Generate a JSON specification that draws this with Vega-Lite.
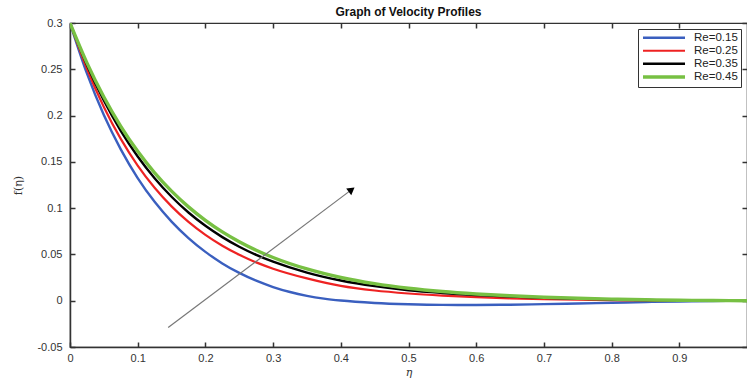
{
  "$schema": "https://vega.github.io/schema/vega-lite/v6.json",
  "autosize": "none",
  "padding": {"left": 70, "top": 23, "right": 0, "bottom": 34},
  "width": 677,
  "height": 324,
  "background": "white",
  "title": {
    "text": "Graph of Velocity Profiles",
    "font": "Liberation Sans",
    "fontSize": 12,
    "fontWeight": "bold",
    "color": "#111",
    "offset": -2
  },
  "config": {
    "view": {"stroke": "#333", "strokeWidth": 1.2},
    "axis": {
      "labelFont": "Liberation Sans",
      "labelFontSize": 11,
      "labelColor": "#333",
      "titleFont": "DejaVu Serif",
      "titleFontSize": 11,
      "titleFontWeight": "normal",
      "titleColor": "#333",
      "domainColor": "#333",
      "domainWidth": 1.5,
      "tickColor": "#333",
      "tickWidth": 1.5,
      "tickSize": -5,
      "grid": false
    },
    "legend": {
      "labelFont": "Liberation Sans",
      "labelFontSize": 11.5,
      "labelColor": "#222"
    }
  },
  "datasets": {
    "profiles": [
      {"eta": 0, "f": 0.3, "Re": "Re=0.15"},
      {"eta": 0.025, "f": 0.2455, "Re": "Re=0.15"},
      {"eta": 0.05, "f": 0.2005, "Re": "Re=0.15"},
      {"eta": 0.075, "f": 0.1635, "Re": "Re=0.15"},
      {"eta": 0.1, "f": 0.1325, "Re": "Re=0.15"},
      {"eta": 0.125, "f": 0.1068, "Re": "Re=0.15"},
      {"eta": 0.15, "f": 0.0855, "Re": "Re=0.15"},
      {"eta": 0.175, "f": 0.0677, "Re": "Re=0.15"},
      {"eta": 0.2, "f": 0.0528, "Re": "Re=0.15"},
      {"eta": 0.225, "f": 0.0403, "Re": "Re=0.15"},
      {"eta": 0.25, "f": 0.03, "Re": "Re=0.15"},
      {"eta": 0.275, "f": 0.0216, "Re": "Re=0.15"},
      {"eta": 0.3, "f": 0.0148, "Re": "Re=0.15"},
      {"eta": 0.325, "f": 0.0094, "Re": "Re=0.15"},
      {"eta": 0.35, "f": 0.0053, "Re": "Re=0.15"},
      {"eta": 0.375, "f": 0.0023, "Re": "Re=0.15"},
      {"eta": 0.4, "f": 0.0002, "Re": "Re=0.15"},
      {"eta": 0.45, "f": -0.0024, "Re": "Re=0.15"},
      {"eta": 0.5, "f": -0.0038, "Re": "Re=0.15"},
      {"eta": 0.55, "f": -0.0045, "Re": "Re=0.15"},
      {"eta": 0.6, "f": -0.0046, "Re": "Re=0.15"},
      {"eta": 0.65, "f": -0.0043, "Re": "Re=0.15"},
      {"eta": 0.7, "f": -0.0037, "Re": "Re=0.15"},
      {"eta": 0.75, "f": -0.003, "Re": "Re=0.15"},
      {"eta": 0.8, "f": -0.0022, "Re": "Re=0.15"},
      {"eta": 0.85, "f": -0.0014, "Re": "Re=0.15"},
      {"eta": 0.9, "f": -0.0008, "Re": "Re=0.15"},
      {"eta": 0.95, "f": -0.0003, "Re": "Re=0.15"},
      {"eta": 1, "f": 0, "Re": "Re=0.15"},

      {"eta": 0, "f": 0.3, "Re": "Re=0.25"},
      {"eta": 0.025, "f": 0.2506, "Re": "Re=0.25"},
      {"eta": 0.05, "f": 0.2093, "Re": "Re=0.25"},
      {"eta": 0.075, "f": 0.1748, "Re": "Re=0.25"},
      {"eta": 0.1, "f": 0.146, "Re": "Re=0.25"},
      {"eta": 0.125, "f": 0.122, "Re": "Re=0.25"},
      {"eta": 0.15, "f": 0.1019, "Re": "Re=0.25"},
      {"eta": 0.175, "f": 0.0851, "Re": "Re=0.25"},
      {"eta": 0.2, "f": 0.0711, "Re": "Re=0.25"},
      {"eta": 0.225, "f": 0.0594, "Re": "Re=0.25"},
      {"eta": 0.25, "f": 0.0496, "Re": "Re=0.25"},
      {"eta": 0.275, "f": 0.0414, "Re": "Re=0.25"},
      {"eta": 0.3, "f": 0.0346, "Re": "Re=0.25"},
      {"eta": 0.35, "f": 0.0241, "Re": "Re=0.25"},
      {"eta": 0.4, "f": 0.016, "Re": "Re=0.25"},
      {"eta": 0.45, "f": 0.011, "Re": "Re=0.25"},
      {"eta": 0.5, "f": 0.0078, "Re": "Re=0.25"},
      {"eta": 0.55, "f": 0.0055, "Re": "Re=0.25"},
      {"eta": 0.6, "f": 0.0038, "Re": "Re=0.25"},
      {"eta": 0.65, "f": 0.0026, "Re": "Re=0.25"},
      {"eta": 0.7, "f": 0.0017, "Re": "Re=0.25"},
      {"eta": 0.75, "f": 0.0011, "Re": "Re=0.25"},
      {"eta": 0.8, "f": 0.0006, "Re": "Re=0.25"},
      {"eta": 0.85, "f": 0.0003, "Re": "Re=0.25"},
      {"eta": 0.9, "f": 0.0001, "Re": "Re=0.25"},
      {"eta": 0.95, "f": 0, "Re": "Re=0.25"},
      {"eta": 1, "f": 0, "Re": "Re=0.25"},

      {"eta": 0, "f": 0.3, "Re": "Re=0.35"},
      {"eta": 0.025, "f": 0.2547, "Re": "Re=0.35"},
      {"eta": 0.05, "f": 0.2162, "Re": "Re=0.35"},
      {"eta": 0.075, "f": 0.1835, "Re": "Re=0.35"},
      {"eta": 0.1, "f": 0.1558, "Re": "Re=0.35"},
      {"eta": 0.125, "f": 0.1323, "Re": "Re=0.35"},
      {"eta": 0.15, "f": 0.1123, "Re": "Re=0.35"},
      {"eta": 0.175, "f": 0.0953, "Re": "Re=0.35"},
      {"eta": 0.2, "f": 0.0809, "Re": "Re=0.35"},
      {"eta": 0.225, "f": 0.0687, "Re": "Re=0.35"},
      {"eta": 0.25, "f": 0.0583, "Re": "Re=0.35"},
      {"eta": 0.275, "f": 0.0495, "Re": "Re=0.35"},
      {"eta": 0.3, "f": 0.0421, "Re": "Re=0.35"},
      {"eta": 0.35, "f": 0.0303, "Re": "Re=0.35"},
      {"eta": 0.4, "f": 0.0218, "Re": "Re=0.35"},
      {"eta": 0.45, "f": 0.0157, "Re": "Re=0.35"},
      {"eta": 0.5, "f": 0.0113, "Re": "Re=0.35"},
      {"eta": 0.55, "f": 0.0084, "Re": "Re=0.35"},
      {"eta": 0.6, "f": 0.0062, "Re": "Re=0.35"},
      {"eta": 0.65, "f": 0.0045, "Re": "Re=0.35"},
      {"eta": 0.7, "f": 0.0032, "Re": "Re=0.35"},
      {"eta": 0.75, "f": 0.0022, "Re": "Re=0.35"},
      {"eta": 0.8, "f": 0.0014, "Re": "Re=0.35"},
      {"eta": 0.85, "f": 0.0008, "Re": "Re=0.35"},
      {"eta": 0.9, "f": 0.0004, "Re": "Re=0.35"},
      {"eta": 0.95, "f": 0.0001, "Re": "Re=0.35"},
      {"eta": 1, "f": 0, "Re": "Re=0.35"},

      {"eta": 0, "f": 0.3, "Re": "Re=0.45"},
      {"eta": 0.025, "f": 0.2569, "Re": "Re=0.45"},
      {"eta": 0.05, "f": 0.22, "Re": "Re=0.45"},
      {"eta": 0.075, "f": 0.1884, "Re": "Re=0.45"},
      {"eta": 0.1, "f": 0.1614, "Re": "Re=0.45"},
      {"eta": 0.125, "f": 0.1382, "Re": "Re=0.45"},
      {"eta": 0.15, "f": 0.1184, "Re": "Re=0.45"},
      {"eta": 0.175, "f": 0.1014, "Re": "Re=0.45"},
      {"eta": 0.2, "f": 0.0868, "Re": "Re=0.45"},
      {"eta": 0.225, "f": 0.0743, "Re": "Re=0.45"},
      {"eta": 0.25, "f": 0.0637, "Re": "Re=0.45"},
      {"eta": 0.275, "f": 0.0545, "Re": "Re=0.45"},
      {"eta": 0.3, "f": 0.0467, "Re": "Re=0.45"},
      {"eta": 0.35, "f": 0.0343, "Re": "Re=0.45"},
      {"eta": 0.4, "f": 0.0251, "Re": "Re=0.45"},
      {"eta": 0.45, "f": 0.0184, "Re": "Re=0.45"},
      {"eta": 0.5, "f": 0.0135, "Re": "Re=0.45"},
      {"eta": 0.55, "f": 0.0099, "Re": "Re=0.45"},
      {"eta": 0.6, "f": 0.0073, "Re": "Re=0.45"},
      {"eta": 0.65, "f": 0.0053, "Re": "Re=0.45"},
      {"eta": 0.7, "f": 0.0038, "Re": "Re=0.45"},
      {"eta": 0.75, "f": 0.0026, "Re": "Re=0.45"},
      {"eta": 0.8, "f": 0.0017, "Re": "Re=0.45"},
      {"eta": 0.85, "f": 0.001, "Re": "Re=0.45"},
      {"eta": 0.9, "f": 0.0005, "Re": "Re=0.45"},
      {"eta": 0.95, "f": 0.0002, "Re": "Re=0.45"},
      {"eta": 1, "f": 0, "Re": "Re=0.45"}
    ],
    "arrow": [
      {"x": 0.145, "y": -0.029, "x2": 0.416, "y2": 0.12}
    ]
  },
  "resolve": {"axis": {"x": "independent", "y": "independent"}},
  "layer": [
    {
      "data": {"name": "profiles"},
      "mark": {"type": "line", "interpolate": "monotone", "clip": true},
      "encoding": {
        "x": {
          "field": "eta", "type": "quantitative",
          "scale": {"domain": [0, 1], "nice": false},
          "axis": {"title": "η", "titleFontStyle": "italic", "values": [0, 0.1, 0.2, 0.3, 0.4, 0.5, 0.6, 0.7, 0.8, 0.9], "labelExpr": "datum.value + ''", "labelPadding": 10, "titlePadding": 3, "labelFlush": false}
        },
        "y": {
          "field": "f", "type": "quantitative",
          "scale": {"domain": [-0.05, 0.3], "nice": false},
          "axis": {"title": "f(η)", "values": [-0.05, 0, 0.05, 0.1, 0.15, 0.2, 0.25, 0.3], "labelExpr": "datum.value + ''", "labelPadding": 13, "titlePadding": 13, "labelFlush": false}
        },
        "color": {
          "field": "Re", "type": "nominal",
          "scale": {
            "domain": ["Re=0.15", "Re=0.25", "Re=0.35", "Re=0.45"],
            "range": ["#3a5fbf", "#ee2222", "#000000", "#77c043"]
          },
          "legend": {
            "title": null,
            "orient": "none",
            "legendX": 568,
            "legendY": 6,
            "symbolType": "M-1,0H9.5",
            "symbolSize": 64,
            "symbolStrokeWidth": 2.5,
            "fillColor": "white",
            "strokeColor": "#333",
            "padding": 3,
            "rowPadding": 0,
            "labelOffset": 41
          }
        },
        "strokeWidth": {
          "field": "Re", "type": "nominal",
          "scale": {
            "type": "ordinal",
            "domain": ["Re=0.15", "Re=0.25", "Re=0.35", "Re=0.45"],
            "range": [2.4, 2.2, 2.4, 3.4]
          },
          "legend": null
        }
      }
    },
    {
      "data": {"name": "arrow"},
      "mark": {"type": "rule", "color": "#777", "strokeWidth": 1.2},
      "encoding": {
        "x": {"field": "x", "type": "quantitative", "axis": {"orient": "top", "labels": false, "title": null, "domain": false, "values": [0, 0.1, 0.2, 0.3, 0.4, 0.5, 0.6, 0.7, 0.8, 0.9]}},
        "y": {"field": "y", "type": "quantitative", "axis": {"orient": "right", "labels": false, "title": null, "domain": false, "values": [-0.05, 0, 0.05, 0.1, 0.15, 0.2, 0.25, 0.3]}},
        "x2": {"field": "x2"},
        "y2": {"field": "y2"}
      }
    },
    {
      "data": {"name": "arrow"},
      "mark": {"type": "point", "shape": "triangle-up", "filled": true, "color": "#000", "size": 70, "angle": 53, "opacity": 1},
      "encoding": {
        "x": {"field": "x2", "type": "quantitative", "axis": null},
        "y": {"field": "y2", "type": "quantitative", "axis": null}
      }
    }
  ]
}
